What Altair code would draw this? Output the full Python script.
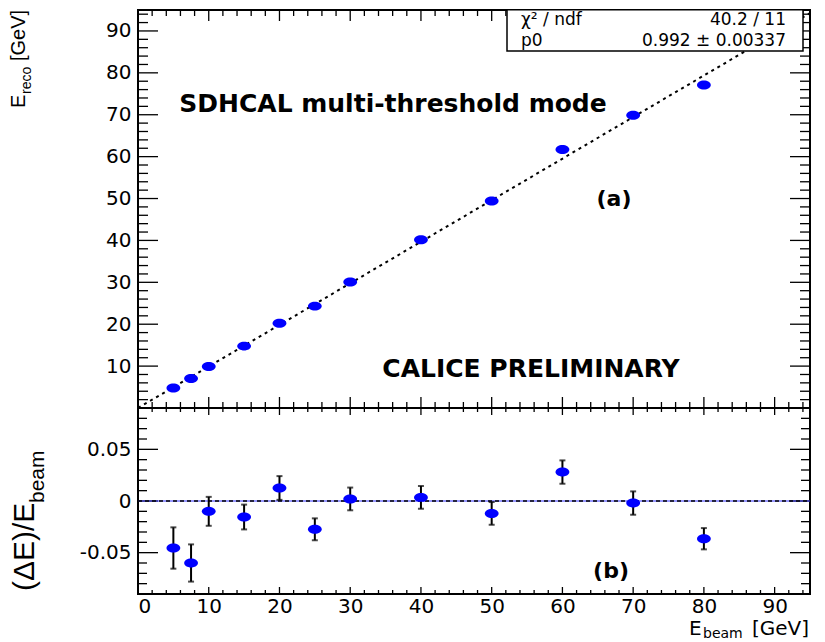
import altair as alt
import pandas as pd

# ---------------- data ----------------
ebeam = [5, 7.5, 10, 15, 20, 25, 30, 40, 50, 60, 70, 80]
ereco = [4.77, 7.05, 9.9, 14.77, 20.25, 24.32, 30.06, 40.14, 49.4, 61.7, 69.86, 77.1]
delta = [-0.0455, -0.060, -0.010, -0.0155, 0.0126, -0.0274, 0.002, 0.0035, -0.012, 0.028, -0.002, -0.0365]
delta_err = [0.020, 0.018, 0.014, 0.012, 0.0115, 0.0106, 0.011, 0.011, 0.011, 0.0113, 0.0113, 0.0103]

fit_x = [0, 95]
fit_y = [0, 94.24]
zero_x = [0, 95]
zero_y = [0, 0]

x_major = [0, 10, 20, 30, 40, 50, 60, 70, 80, 90]
x_minor = [v for v in range(2, 95, 2) if v % 10 != 0]
top_y_major = [0, 10, 20, 30, 40, 50, 60, 70, 80, 90]
top_y_minor = [v for v in range(2, 95, 2) if v % 10 != 0]
top_y_labels = [10, 20, 30, 40, 50, 60, 70, 80, 90]
bot_y_major = [-0.05, 0.0, 0.05]
bot_y_minor = [-0.09, -0.08, -0.07, -0.06, -0.04, -0.03, -0.02, -0.01,
               0.01, 0.02, 0.03, 0.04, 0.06, 0.07, 0.08, 0.09]

W, H1, H2 = 672, 398, 186
FONT = "DejaVu Sans"
LFONT = "Liberation Sans"

xs = alt.Scale(domain=[0, 95], nice=False, zero=False)
ys_top = alt.Scale(domain=[0, 95], nice=False, zero=False)
ys_bot = alt.Scale(domain=[-0.09, 0.09], nice=False, zero=False)

ax_top_y = alt.Axis(values=top_y_labels, title=None, labelPadding=7)
ax_bot_y = alt.Axis(values=bot_y_major, title=None, labelPadding=7,
                    labelExpr="datum.value == 0 ? '0' : (datum.value < 0 ? '-' + format(-datum.value, '.2f') : format(datum.value, '.2f'))")
ax_bot_x = alt.Axis(values=x_major, title=None, labelPadding=2)

ELLIPSE = "M -1 0 A 1 0.65 0 1 1 1 0 A 1 0.65 0 1 1 -1 0 Z"
one = pd.DataFrame({"a": [0]})


def ticks(vals, side, length, H, ysc, xaxis, yaxis):
    df = pd.DataFrame({"v": vals})
    m = alt.Chart(df).mark_rule(color="black", strokeWidth=1.3)
    if side in ("bottom", "top"):
        y0, y1 = (H, H - length) if side == "bottom" else (0, length)
        return m.encode(x=alt.X("v:Q", scale=xs, axis=xaxis),
                        y=alt.value(y0), y2=alt.value(y1))
    x0, x1 = (0, length) if side == "left" else (W, W - length)
    return m.encode(y=alt.Y("v:Q", scale=ysc, axis=yaxis),
                    x=alt.value(x0), x2=alt.value(x1))


def label(text, x, y, size, font=FONT, weight="normal", align="center",
          baseline="middle", angle=0):
    return alt.Chart(one).mark_text(
        text=text, font=font, fontSize=size, fontWeight=weight, align=align,
        baseline=baseline, angle=angle, color="black"
    ).encode(x=alt.value(x), y=alt.value(y))


# ---------------- top panel ----------------
top_df = pd.DataFrame({"ebeam": ebeam, "ereco": ereco})
fit_df = pd.DataFrame({"x": fit_x, "y": fit_y})

fit_line = alt.Chart(fit_df).mark_line(color="black", strokeWidth=2, strokeDash=[3, 4]).encode(
    x=alt.X("x:Q", scale=xs, axis=None), y=alt.Y("y:Q", scale=ys_top, axis=ax_top_y))
top_pts = alt.Chart(top_df).mark_point(filled=True, shape=ELLIPSE, size=190, color="#0000ff", opacity=1).encode(
    x=alt.X("ebeam:Q", scale=xs, axis=None), y=alt.Y("ereco:Q", scale=ys_top, axis=ax_top_y))

top_ticks = [
    ticks(x_major, "bottom", 11, H1, ys_top, None, ax_top_y),
    ticks(x_minor, "bottom", 6, H1, ys_top, None, ax_top_y),
    ticks(x_major, "top", 11, H1, ys_top, None, ax_top_y),
    ticks(x_minor, "top", 6, H1, ys_top, None, ax_top_y),
    ticks(top_y_major, "left", 20, H1, ys_top, None, ax_top_y),
    ticks(top_y_minor, "left", 10, H1, ys_top, None, ax_top_y),
    ticks(top_y_major, "right", 20, H1, ys_top, None, ax_top_y),
    ticks(top_y_minor, "right", 10, H1, ys_top, None, ax_top_y),
]

stats_box = alt.Chart(one).mark_rect(fill="white", stroke="black", strokeWidth=1.5).encode(
    x=alt.value(369), x2=alt.value(665), y=alt.value(-0.25), y2=alt.value(41))

top_texts = [
    label("χ² / ndf", 383, 10, 17, align="left"),
    label("40.2 / 11", 648, 10, 17, align="right"),
    label("p0", 383, 31, 17, align="left"),
    label("0.992 ± 0.00337", 648, 31, 17, align="right"),
    label("SDHCAL multi-threshold mode", 255, 94, 25, weight="bold"),
    label("(a)", 476, 189, 22, weight="bold"),
    label("CALICE PRELIMINARY", 393, 359, 25, weight="bold"),
    # y title E_reco [GeV]
    label("E", -119, 98, 20, font=LFONT, align="left", angle=270),
    label("reco", -111, 84, 14, font=LFONT, align="left", angle=270),
    label("[GeV]", -119, 51, 20, font=LFONT, align="left", angle=270),
]

top = alt.layer(*top_ticks, fit_line, top_pts, stats_box, *top_texts).properties(width=W, height=H1)

# ---------------- bottom panel ----------------
bot_df = pd.DataFrame({"ebeam": ebeam, "delta": delta, "err": delta_err})
bot_df["lo"] = bot_df["delta"] - bot_df["err"]
bot_df["hi"] = bot_df["delta"] + bot_df["err"]
zero_df = pd.DataFrame({"x": zero_x, "y": zero_y})

zero_blue = alt.Chart(zero_df).mark_line(color="#3030ff", strokeWidth=1).encode(
    x=alt.X("x:Q", scale=xs, axis=ax_bot_x), y=alt.Y("y:Q", scale=ys_bot, axis=ax_bot_y))
zero_dash = alt.Chart(zero_df).mark_line(color="black", strokeWidth=1.5, strokeDash=[4, 3]).encode(
    x=alt.X("x:Q", scale=xs, axis=ax_bot_x), y=alt.Y("y:Q", scale=ys_bot, axis=ax_bot_y))
err_rule = alt.Chart(bot_df).mark_rule(color="black", strokeWidth=2).encode(
    x=alt.X("ebeam:Q", scale=xs, axis=ax_bot_x), y=alt.Y("lo:Q", scale=ys_bot, axis=ax_bot_y), y2="hi:Q")
cap_lo = alt.Chart(bot_df).mark_tick(color="black", orient="horizontal", size=6, thickness=2).encode(
    x=alt.X("ebeam:Q", scale=xs, axis=ax_bot_x), y=alt.Y("lo:Q", scale=ys_bot, axis=ax_bot_y))
cap_hi = alt.Chart(bot_df).mark_tick(color="black", orient="horizontal", size=6, thickness=2).encode(
    x=alt.X("ebeam:Q", scale=xs, axis=ax_bot_x), y=alt.Y("hi:Q", scale=ys_bot, axis=ax_bot_y))
bot_pts = alt.Chart(bot_df).mark_point(filled=True, shape=ELLIPSE, size=190, color="#0000ff", opacity=1).encode(
    x=alt.X("ebeam:Q", scale=xs, axis=ax_bot_x), y=alt.Y("delta:Q", scale=ys_bot, axis=ax_bot_y))

bot_ticks = [
    ticks(x_major, "bottom", 7, H2, ys_bot, ax_bot_x, ax_bot_y),
    ticks(x_minor, "bottom", 4, H2, ys_bot, ax_bot_x, ax_bot_y),
    ticks(x_major, "top", 7, H2, ys_bot, ax_bot_x, ax_bot_y),
    ticks(x_minor, "top", 4, H2, ys_bot, ax_bot_x, ax_bot_y),
    ticks(bot_y_major, "left", 20, H2, ys_bot, ax_bot_x, ax_bot_y),
    ticks(bot_y_minor, "left", 9, H2, ys_bot, ax_bot_x, ax_bot_y),
    ticks(bot_y_major, "right", 20, H2, ys_bot, ax_bot_x, ax_bot_y),
    ticks(bot_y_minor, "right", 9, H2, ys_bot, ax_bot_x, ax_bot_y),
]

bot_texts = [
    label("(b)", 473, 163, 22, weight="bold"),
    # y title (ΔE)/E_beam
    label("(ΔE)/E", -113, 183, 30, font=LFONT, align="left", angle=270),
    label("beam", -100, 95, 21, font=LFONT, align="left", angle=270),
    # x title E_beam [GeV]
    label("E", 551, 221, 20, align="left"),
    label("beam", 565, 226, 14, align="left"),
    label("[GeV]", 671, 221, 20, align="right"),
]

bottom = alt.layer(*bot_ticks, zero_blue, zero_dash, err_rule, cap_lo, cap_hi, bot_pts, *bot_texts).properties(
    width=W, height=H2)

chart = alt.vconcat(top, bottom, spacing=0, bounds="flush").properties(
    padding=0, background="white"
).configure_view(stroke="black", strokeWidth=2).configure_axis(
    labelFont=FONT, labelFontSize=20, labelColor="black", grid=False, domain=False, ticks=False
)

chart.save("out.html", embed_options={"renderer": "svg", "actions": False})
